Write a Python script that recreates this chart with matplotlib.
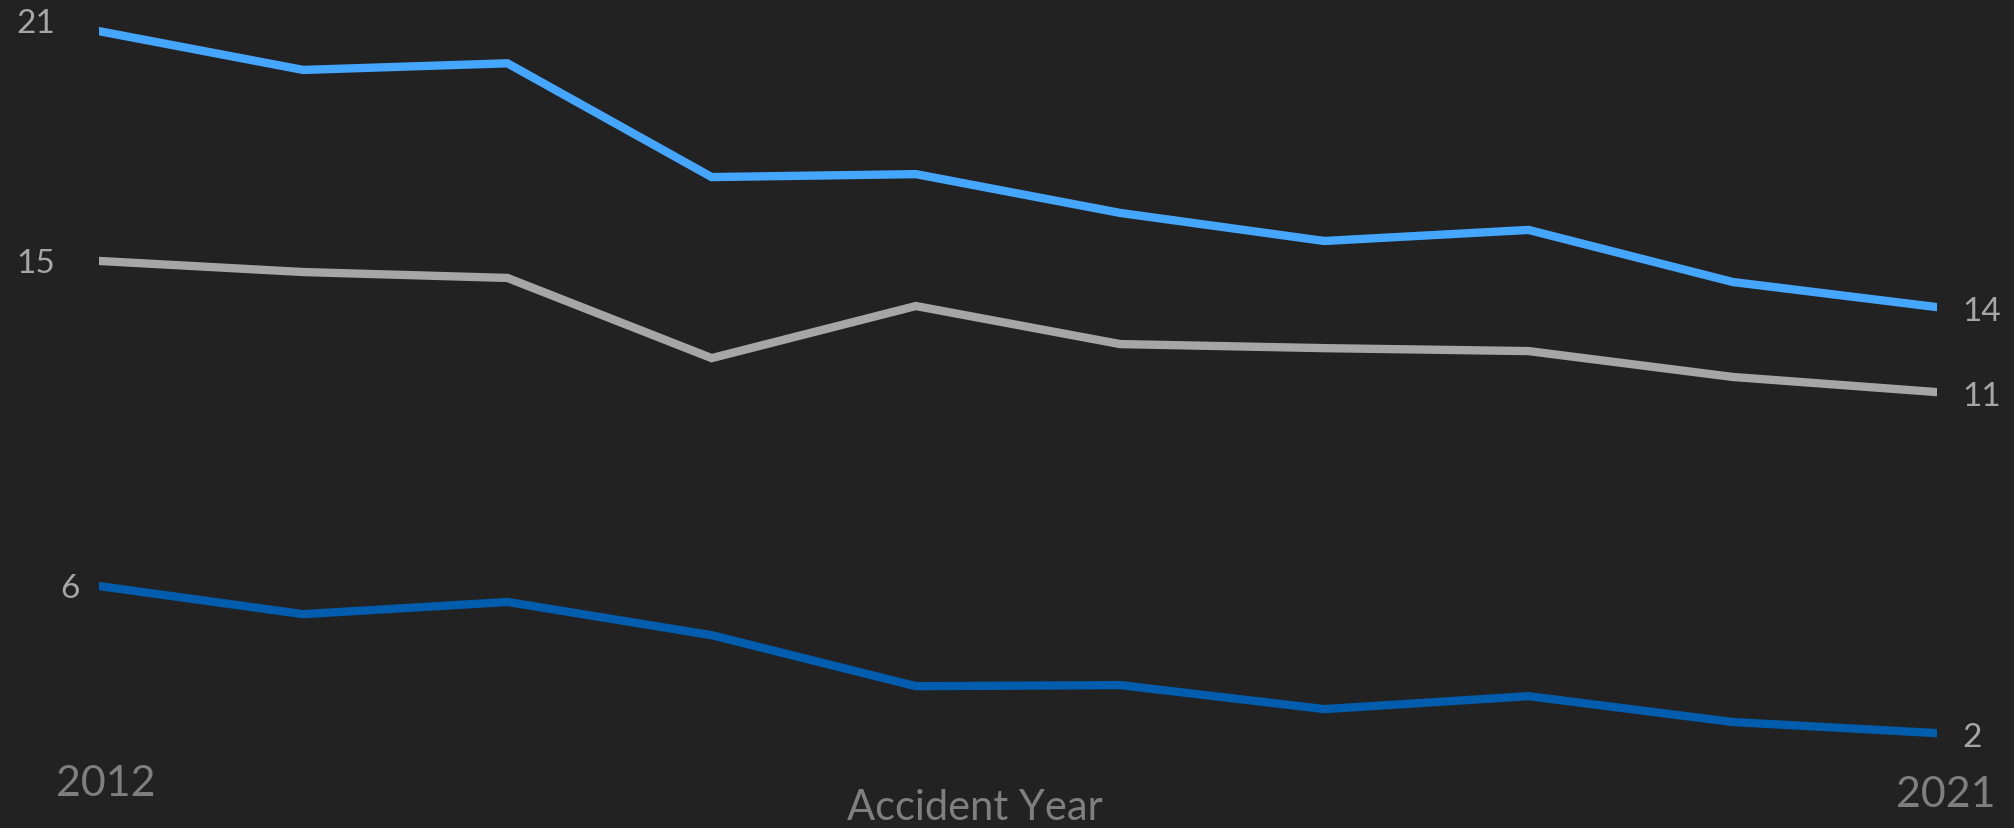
import numpy as np
import matplotlib.pyplot as plt

# values
years = [2012, 2013, 2014, 2015, 2016, 2017, 2018, 2019, 2020, 2021]
light_blue = [21.0, 19.95, 20.13, 17.05, 17.13, 16.08, 15.32, 15.62, 14.21, 13.53]
gray = [14.78, 14.48, 14.32, 12.15, 13.56, 12.53, 12.42, 12.34, 11.64, 11.23]
dark_blue = [5.98, 5.22, 5.55, 4.65, 3.27, 3.30, 2.65, 3.00, 2.30, 2.00]

series = [light_blue, gray, dark_blue]
colors = ["#45a6ff", "#a6a6a6", "#005cac"]

bg = "#222222"
label_col = "#a6a6a6"
axis_col = "#7f7f7f"

plt.rcParams['font.family'] = ['Lato', 'DejaVu Sans']

fig = plt.figure(figsize=(20.15, 8.29), dpi=100, facecolor=bg)
ax = fig.add_axes([99 / 2015, 0, 1838 / 2015, 1])
ax.set_facecolor(bg)

for i, (vals, c) in enumerate(zip(series, colors)):
    ax.plot(years, vals, color=c, lw=6, solid_capstyle='round',
            solid_joinstyle='miter')
    # start label
    first = f"{vals[0]:.0f}"
    off = -44 if len(first) == 2 else -19
    dy = 8 if i == 0 else -2
    ax.annotate(first, (years[0], vals[0]), xytext=(off, dy),
                textcoords='offset pixels', ha='right', va='center',
                fontsize=24, color=label_col, annotation_clip=False)
    # end label
    ax.annotate(f"{vals[-1]:.0f}", (years[-1], vals[-1]), xytext=(25, -4),
                textcoords='offset pixels', ha='left', va='center',
                fontsize=24, color=label_col, annotation_clip=False)

ax.set_xlim(years[0], years[-1])
ax.set_ylim(-0.568, 21.87)
ax.axis('off')

# x labels (only first and last year)
ax.annotate(str(years[0]), (years[0], 0), xytext=(7, 24),
            textcoords='offset pixels', ha='center', va='center',
            fontsize=31, color=axis_col, annotation_clip=False)
ax.annotate(str(years[-1]), (years[-1], 0), xytext=(9, 13),
            textcoords='offset pixels', ha='center', va='center',
            fontsize=31, color=axis_col, annotation_clip=False)
fig.text(975 / 2015, 1 - 808 / 829, "Accident Year", ha='center', va='center',
         fontsize=30, color=axis_col)

plt.savefig("out.png", dpi=100, facecolor=bg)
